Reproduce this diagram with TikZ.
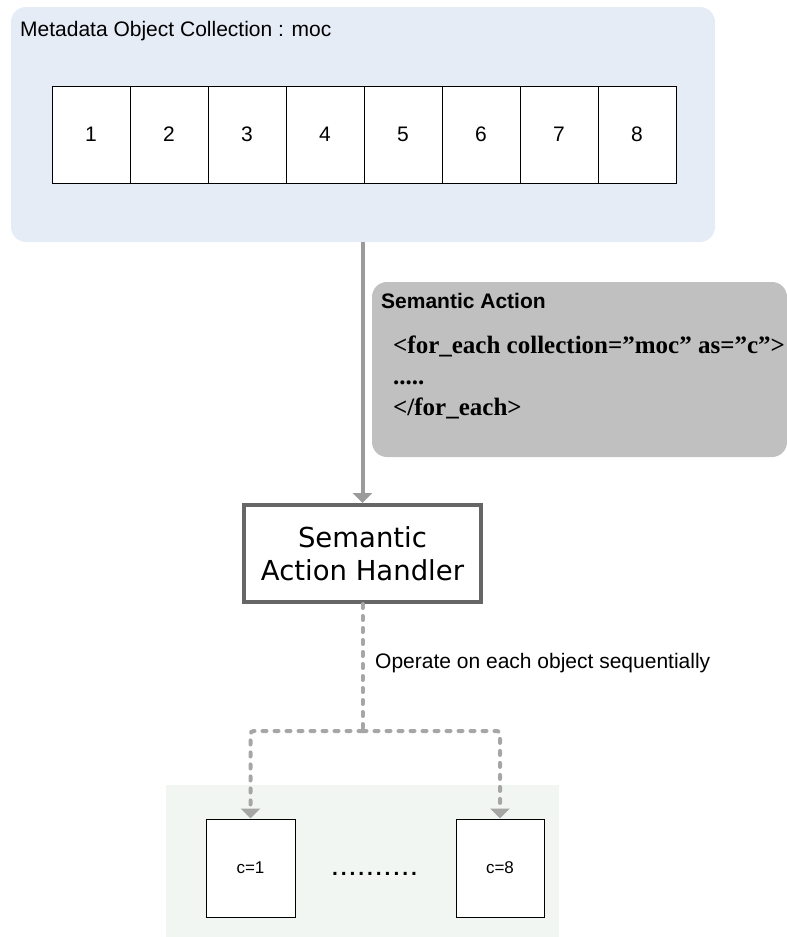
\documentclass[tikz,border=0pt]{standalone}
\usepackage{fontspec}
\setmainfont{Liberation Sans}
\newfontfamily\codefont{Liberation Serif}
\newfontfamily\handlerfont{DejaVu Sans}
\newfontfamily\dotfont[LetterSpace=14]{Liberation Sans}
\usetikzlibrary{arrows.meta}

\definecolor{mocfill}{RGB}{230,236,246}
\definecolor{actfill}{RGB}{192,192,192}
\definecolor{resfill}{RGB}{242,246,242}
\definecolor{flowgray}{RGB}{155,155,155}
\definecolor{dashgray}{RGB}{166,166,166}
\definecolor{framegray}{RGB}{102,102,102}

\tikzset{
  panel/.style={inner sep=0pt, rounded corners=15pt},
  cell/.style={draw=black, line width=1pt, fill=white, inner sep=0pt,
    minimum width=78pt, minimum height=97pt, font=\fontsize{21}{25}\selectfont},
  itembox/.style={draw=black, line width=1pt, fill=white, inner sep=0pt,
    minimum width=89pt, minimum height=98pt, font=\fontsize{17}{20}\selectfont},
  handler/.style={draw=framegray, line width=4pt, fill=white, inner sep=0pt,
    minimum width=237pt, minimum height=97pt, align=center,
    font=\handlerfont\fontsize{27.5}{33}\selectfont},
  flow/.style={draw=flowgray, line width=4pt,
    -{Triangle[width=19pt,length=10pt]}},
  seqflow/.style={draw=dashgray, line width=4pt, line cap=round,
    dash pattern=on 4pt off 8pt, rounded corners=3pt,
    -{Triangle[width=19pt,length=10pt,fill=dashgray]}},
  seqline/.style={draw=dashgray, line width=4pt, line cap=round,
    dash pattern=on 4pt off 8pt},
  label/.style={inner sep=0pt, anchor=base west}
}

\begin{document}
\begin{tikzpicture}[x=1pt, y=-1pt]
  \useasboundingbox (0,0) rectangle (787,937);

  % metadata object collection
  \node[panel, fill=mocfill, minimum width=704pt, minimum height=235pt]
    (moc) at (363,124.5) {};
  \node[label, font=\fontsize{21}{25}\selectfont] (moctitle) at (20,36)
    {Metadata Object Collection : moc};
  \foreach \i in {1,...,8} {
    \node[cell] (cell\i) at ({52+78*(\i-1)+39},134.5) {\i};
  }

  % semantic action
  \node[panel, fill=actfill, minimum width=415pt, minimum height=175pt]
    (act) at (579.5,369.5) {};
  \node[label, font=\bfseries\fontsize{21}{25}\selectfont] (acttitle) at (381,308)
    {Semantic Action};
  \node[label, font=\codefont\bfseries\fontsize{25}{30}\selectfont] (code1) at (393,353)
    {<for\_each collection=”moc” as=”c”>};
  \node[label, font=\codefont\bfseries\fontsize{25}{30}\selectfont] (code2) at (393,384)
    {.....};
  \node[label, font=\codefont\bfseries\fontsize{25}{30}\selectfont] (code3) at (393,415)
    {</for\_each>};

  % handler
  \node[handler] (sah) at (362.5,553.5) {Semantic\\Action Handler};
  \draw[flow] (moc.south -| sah.north) -- (sah.north);

  % results
  \fill[resfill] (166,785) rectangle (559,937);
  \node[itembox] (c1) at (250.5,868) {c=1};
  \node[itembox, minimum width=88pt] (c8) at (500,868) {c=8};
  \node[inner sep=0pt, anchor=base, font=\dotfont\bfseries\fontsize{21}{25}\selectfont]
    (dots) at (374.5,875) {..........};

  % sequential dispatch
  \coordinate (split) at (362.5,731);
  \draw[seqline] (sah.south) -- (split);
  \draw[seqflow] (split) -| (c1.north);
  \draw[seqflow] (split) -| (c8.north);
  \node[label, font=\fontsize{21}{25}\selectfont] (seqlabel) at (375,668)
    {Operate on each object sequentially};
\end{tikzpicture}
\end{document}
